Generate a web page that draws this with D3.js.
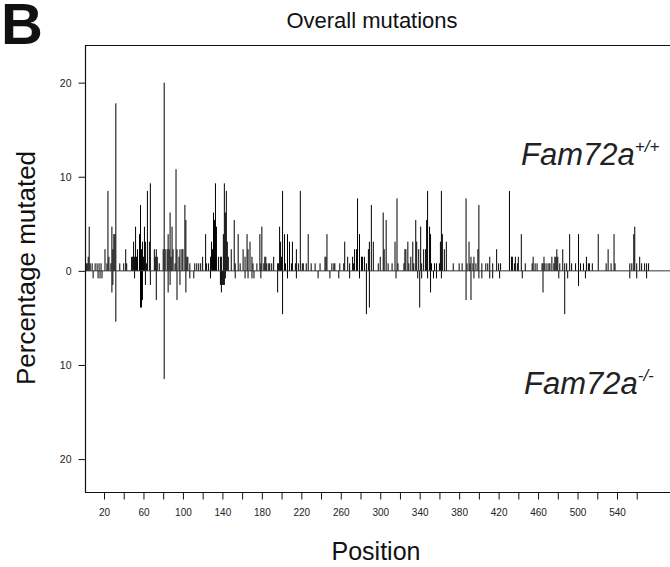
<!DOCTYPE html>
<html><head><meta charset="utf-8">
<script src="https://cdn.jsdelivr.net/npm/d3@7"></script>
<style>
html,body{margin:0;padding:0;background:#fff;}
svg{display:block;font-family:"Liberation Sans",Arial,Helvetica,sans-serif;}
</style></head>
<body><svg id="c" width="670" height="567"></svg>
<script>
// Fam72a+/+ (upper) : position and percentage mutated
const wtPos = [2,3,4,5,6,8,11,13,15,17,21,23,24,25,27,28,29,30,31,32,36,40,42,43,48,49,50,51,52,53,54,56,57,58,59,60,61,62,63,64,66,67,71,72,73,74,76,80,81,82,84,85,86,87,88,89,90,92,93,94,96,97,99,100,102,103,104,105,107,112,114,116,118,120,123,124,126,128,129,130,131,132,133,134,136,138,139,141,142,143,144,145,146,149,152,153,156,158,161,163,165,166,168,170,171,175,178,179,180,182,183,184,185,187,188,190,192,196,197,198,199,200,201,203,204,206,208,210,211,214,215,217,219,221,222,225,227,230,234,239,244,245,246,251,253,254,259,263,264,267,269,272,273,274,276,277,279,281,282,284,286,288,289,291,293,298,300,303,304,306,308,312,315,317,318,324,325,326,328,329,331,333,334,336,337,339,341,342,344,346,347,348,350,351,352,355,357,360,361,362,363,365,367,374,380,383,387,388,390,391,392,394,395,397,399,400,403,407,409,411,414,418,420,422,431,433,434,436,437,439,440,443,447,454,455,457,459,464,465,466,467,469,471,472,474,476,477,478,479,480,482,485,487,489,492,494,498,501,503,506,509,511,512,515,521,529,531,534,537,538,553,555,557,558,560,563,565,568,570,572];
const wtVal = [0.8,0.8,1.5,4.7,0.8,0.8,0.8,0.8,0.8,0.8,2.3,0.8,8.5,1.5,0.8,4.7,2.3,3.9,3.9,17.8,0.8,0.8,2.3,0.8,1.5,1.5,3.1,1.5,4.7,1.5,2.3,3.9,7.0,2.3,3.1,1.5,4.7,3.1,0.8,8.5,3.1,9.3,2.3,1.5,2.3,1.5,0.8,2.3,20.0,2.3,2.3,3.9,2.3,6.2,1.5,4.7,2.3,0.8,10.8,2.3,1.5,2.3,2.3,2.3,7.0,5.4,1.5,1.5,0.8,0.8,0.8,0.8,0.8,1.5,3.9,0.8,0.8,1.5,3.1,2.3,6.2,5.4,9.3,4.7,1.5,1.5,1.5,3.9,9.3,6.2,8.5,3.1,1.5,2.3,5.4,0.8,3.9,0.8,2.3,1.5,3.9,2.3,3.1,1.5,0.8,0.8,3.9,0.8,4.7,0.8,1.5,1.5,0.8,0.8,0.8,0.8,1.5,0.8,0.8,4.7,3.1,1.5,8.5,3.9,0.8,3.9,3.1,0.8,3.1,0.8,2.3,0.8,8.5,0.8,0.8,0.8,3.9,0.8,0.8,0.8,1.5,1.5,3.9,0.8,0.8,0.8,0.8,0.8,3.1,1.5,0.8,1.5,0.8,2.3,2.3,7.7,3.9,1.5,1.5,1.5,0.8,2.3,3.1,7.0,3.1,0.8,1.5,6.2,2.3,5.4,0.8,0.8,3.1,7.7,0.8,0.8,2.3,2.3,3.1,0.8,1.5,3.1,0.8,5.4,3.1,2.3,4.7,0.8,2.3,2.3,5.4,8.5,4.7,3.9,0.8,0.8,0.8,0.8,3.1,8.5,3.9,2.3,3.1,0.8,0.8,0.8,7.7,0.8,3.1,0.8,1.5,0.8,1.5,0.8,2.3,7.0,0.8,0.8,0.8,1.5,0.8,2.3,0.8,0.8,8.5,1.5,1.5,0.8,1.5,0.8,1.5,3.9,0.8,0.8,1.5,0.8,0.8,0.8,0.8,1.5,0.8,0.8,0.8,0.8,1.5,0.8,1.5,1.5,2.3,1.5,0.8,2.3,0.8,0.8,3.9,0.8,0.8,3.9,0.8,0.8,1.5,0.8,0.8,0.8,3.9,0.8,2.3,0.8,3.9,0.8,0.8,0.8,3.9,4.7,0.8,1.5,0.8,0.8,0.8,0.8];
// Fam72a-/- (lower)
const koPos = [9,14,16,18,28,29,32,51,57,58,59,62,67,73,81,85,87,94,97,103,107,111,128,138,139,140,141,142,143,153,163,166,170,172,179,196,201,206,215,237,249,258,269,279,286,289,316,338,340,342,348,351,354,357,362,387,392,395,400,403,411,414,421,444,465,481,487,490,501,508,553,560,570];
const koVal = [0.8,0.8,0.8,0.8,2.3,1.5,5.4,0.8,3.9,3.9,3.1,1.5,1.5,3.1,11.5,2.3,1.5,3.1,1.5,2.3,0.8,0.8,0.8,1.5,2.3,1.5,1.5,1.5,0.8,0.8,0.8,0.8,0.8,0.8,0.8,2.3,4.6,0.8,0.8,0.8,0.8,0.8,0.8,0.8,4.6,3.9,0.8,0.8,3.9,0.8,0.8,2.3,0.8,0.8,0.8,3.1,3.1,0.8,0.8,0.8,0.8,0.8,0.8,0.8,2.3,0.8,4.6,0.8,1.6,0.8,0.8,0.8,0.8];
const xTickValues = [20,40,60,80,100,120,140,160,180,200,220,240,260,280,300,320,340,360,380,400,420,440,460,480,500,520,540,560];
const xTickLabels = [20,60,100,140,180,220,260,300,340,380,420,460,500,540];
const yTickValues = [20,10,0,-10,-20];
const yTickLabels = ["20","10","0","10","20"];

const svg = d3.select("#c");
const mLeft = 85, mTop = 45, mBottom = 492, mRight = 680;
const x = d3.scaleLinear().domain([20, 540]).range([104, 617]);
const y = d3.scaleLinear().domain([-23.5, 24]).range([mBottom, mTop]);
const ink = "#111";

// frame (top, bottom)
svg.append("line").attr("x1", mLeft).attr("x2", mRight).attr("y1", mTop + 0.5).attr("y2", mTop + 0.5).attr("stroke", ink).attr("stroke-width", 1);
svg.append("line").attr("x1", mLeft).attr("x2", mRight).attr("y1", mBottom + 0.5).attr("y2", mBottom + 0.5).attr("stroke", ink).attr("stroke-width", 1.2);

// bars
const g = svg.append("g");
g.selectAll("line.wt").data(d3.zip(wtPos, wtVal)).join("line").attr("class", "wt")
  .attr("x1", d => x(d[0])).attr("x2", d => x(d[0]))
  .attr("y1", y(0)).attr("y2", d => y(d[1]))
  .attr("stroke", "#000").attr("stroke-width", 1);
g.selectAll("line.ko").data(d3.zip(koPos, koVal)).join("line").attr("class", "ko")
  .attr("x1", d => x(d[0])).attr("x2", d => x(d[0]))
  .attr("y1", y(0)).attr("y2", d => y(-d[1]))
  .attr("stroke", "#000").attr("stroke-width", 1);

// zero line
svg.append("line").attr("x1", mLeft).attr("x2", mRight).attr("y1", y(0)).attr("y2", y(0)).attr("stroke", "#333").attr("stroke-width", 1);

// y axis
const yAxis = d3.axisLeft(y).tickValues(yTickValues).tickSize(7).tickPadding(7)
  .tickFormat((d, i) => yTickLabels[i]);
const ya = svg.append("g").attr("transform", `translate(${mLeft + 0.5},0)`).call(yAxis);
ya.select(".domain").attr("d", `M0,${mTop}V${mBottom}`).attr("stroke", ink).attr("stroke-width", 1.2);
ya.selectAll(".tick line").attr("stroke", ink);
ya.selectAll("text").attr("font-size", 10.5).attr("fill", "#222").attr("font-family", "Liberation Sans, Arial, sans-serif");

// x axis
const xAxis = d3.axisBottom(x).tickValues(xTickValues).tickSize(7).tickPadding(9)
  .tickFormat(d => xTickLabels.includes(d) ? d : "");
const xa = svg.append("g").attr("transform", `translate(0,${mBottom + 0.5})`).call(xAxis);
xa.select(".domain").remove();
xa.selectAll(".tick line").attr("stroke", ink);
xa.selectAll("text").attr("font-size", 10).attr("fill", "#222").attr("font-family", "Liberation Sans, Arial, sans-serif");

// texts
svg.append("text").attr("x", 1).attr("y", 44).attr("font-size", 58).attr("font-weight", "bold").attr("fill", "#111").text("B");
svg.append("text").attr("x", 372).attr("y", 28).attr("text-anchor", "middle").attr("font-size", 22).attr("fill", "#111").text("Overall mutations");
svg.append("text").attr("transform", "translate(35,268) rotate(-90)").attr("text-anchor", "middle").attr("font-size", 26).attr("fill", "#111").text("Percentage mutated");
svg.append("text").attr("x", 376).attr("y", 560).attr("text-anchor", "middle").attr("font-size", 25).attr("fill", "#111").text("Position");

const t1 = svg.append("text").attr("x", 521).attr("y", 165).attr("font-size", 31).attr("font-style", "italic").attr("fill", "#222");
t1.append("tspan").text("Fam72a");
t1.append("tspan").attr("font-size", 17).attr("dy", -13).text("+/+");
const t2 = svg.append("text").attr("x", 524).attr("y", 394).attr("font-size", 31).attr("font-style", "italic").attr("fill", "#222");
t2.append("tspan").text("Fam72a");
t2.append("tspan").attr("font-size", 17).attr("dy", -13).text("-/-");
</script></body></html>
